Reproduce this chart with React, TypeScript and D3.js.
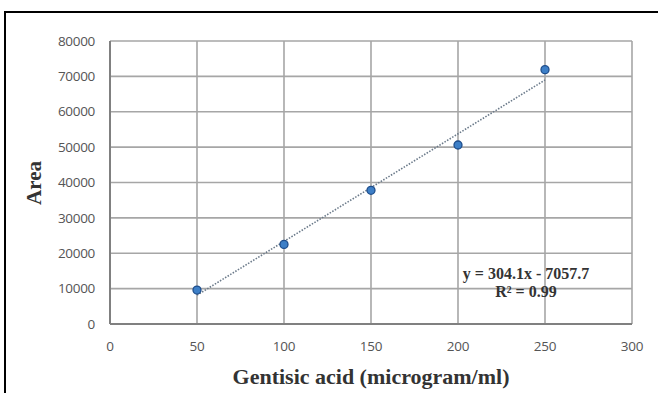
import React from "react";
import * as d3 from "d3";

const xValues = [50, 100, 150, 200, 250];
const yValues = [9600, 22500, 37800, 50600, 71900];
const xTicks = [0, 50, 100, 150, 200, 250, 300];
const yTicks = [0, 10000, 20000, 30000, 40000, 50000, 60000, 70000, 80000];
const slope = 304.1;
const intercept = -7057.7;
const equationLines = ["y = 304.1x - 7057.7", "R² = 0.99"];

export default function App() {
  const W = 658, H = 393;
  const x = d3.scaleLinear().domain([0, 300]).range([110, 632]);
  const y = d3.scaleLinear().domain([0, 80000]).range([324, 41]);
  const trend = d3.line<number>().x((d) => x(d)).y((d) => y(slope * d + intercept));
  const trendPts = [xValues[0], xValues[xValues.length - 1]];
  return (
    <svg width={W} height={H} style={{ position: "absolute", left: 0, top: 0, background: "#fff" }}>
      <line x1={5} y1={12} x2={W} y2={12} stroke="#000" strokeWidth={2} />
      <line x1={5} y1={11} x2={5} y2={H} stroke="#000" strokeWidth={2} />
      {yTicks.map((t) => (
        <line key={"gy" + t} x1={x(0)} x2={x(300)} y1={y(t)} y2={y(t)} stroke="#a6a6a6" strokeWidth={1.6} />
      ))}
      {xTicks.map((t) => (
        <line key={"gx" + t} x1={x(t)} x2={x(t)} y1={y(0)} y2={y(80000)} stroke="#a6a6a6" strokeWidth={1.6} />
      ))}
      <line x1={x(0)} x2={x(300)} y1={y(0)} y2={y(0)} stroke="#808080" strokeWidth={2} />
      <line x1={x(0)} x2={x(0)} y1={y(0)} y2={y(80000)} stroke="#808080" strokeWidth={2} />
      {yTicks.map((t) => (
        <text key={"ty" + t} x={95} y={y(t)} dy="0.35em" textAnchor="end" fontFamily="Open Sans, sans-serif" fontSize={13.5} fill="#555" letterSpacing={-0.3}>
          {t}
        </text>
      ))}
      {xTicks.map((t) => (
        <text key={"tx" + t} x={x(t)} y={346} dy="0.35em" textAnchor="middle" fontFamily="Open Sans, sans-serif" fontSize={13.5} fill="#555" letterSpacing={-0.3}>
          {t}
        </text>
      ))}
      <path d={trend(trendPts) || ""} stroke="#6b7a8a" strokeWidth={1.6} strokeDasharray="1.5 1.5" fill="none" />
      {xValues.map((v, i) => (
        <circle key={"p" + i} cx={x(v)} cy={y(yValues[i])} r={4} fill="#3d7fc7" stroke="#1f4e8c" strokeWidth={1.3} />
      ))}
      {equationLines.map((l, i) => (
        <text key={"eq" + i} x={526} y={273 + i * 18.5} dy="0.35em" textAnchor="middle" fontFamily="Liberation Serif, serif" fontWeight="bold" fontSize={16} fill="#333">
          {l}
        </text>
      ))}
      <text transform={`translate(41,183) rotate(-90)`} textAnchor="middle" fontFamily="Liberation Serif, serif" fontWeight="bold" fontSize={21} fill="#333">
        Area
      </text>
      <text x={371} y={384} textAnchor="middle" fontFamily="Liberation Serif, serif" fontWeight="bold" fontSize={22} fill="#333">
        Gentisic acid (microgram/ml)
      </text>
    </svg>
  );
}
